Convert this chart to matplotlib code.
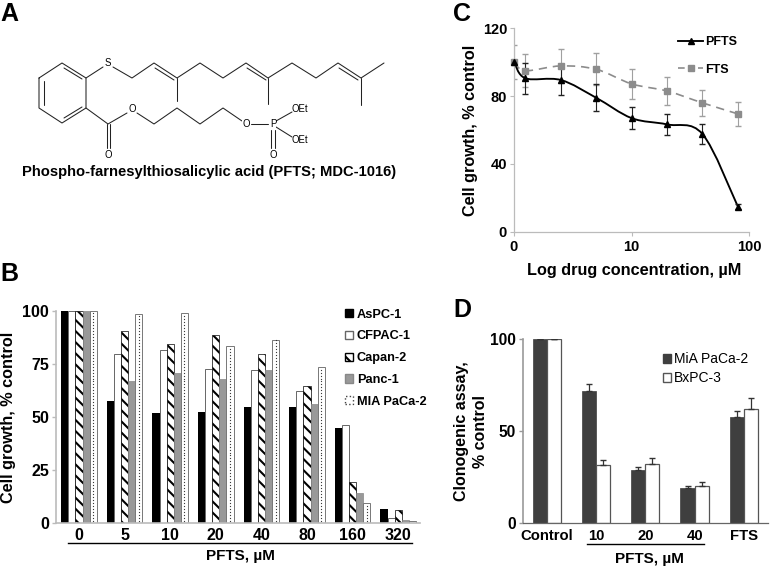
import matplotlib
matplotlib.use("Agg")
import matplotlib.pyplot as plt
import numpy as np
from matplotlib.patches import PathPatch, Patch
from matplotlib.path import Path
from matplotlib.ticker import NullFormatter, NullLocator

plt.rcParams['font.family'] = ['Liberation Sans', 'DejaVu Sans']
plt.rcParams['font.weight'] = 'bold'
plt.rcParams['hatch.linewidth'] = 1.5

W, H = 770, 568

# panel B
doses_b = ["0", "5", "10", "20", "40", "80", "160", "320"]
aspc = [100, 57.5, 52, 52.5, 54.5, 54.6, 45, 6.3]
cfpac = [100, 80, 81.5, 72.5, 72, 62.5, 46.4, 2.4]
capan = [100, 90.5, 84.5, 89, 80, 64.8, 19.4, 6]
panc = [100, 67, 71, 68, 72.4, 56, 14, 1.4]
mia = [100, 98.5, 99, 83.5, 86.6, 73.7, 9.3, 0.8]

# panel C
conc = [1, 1.25, 2.5, 5, 10, 20, 40, 80]
pfts = [100, 90.5, 89.5, 79, 67, 63.3, 57.6, 14.8]
pfts_err = [0, 9, 9, 8, 6.7, 6.3, 5.7, 1.5]
fts = [100, 95, 97.8, 95.8, 87.2, 83, 76, 69.5]
fts_err = [10, 9.7, 10, 9.5, 8.7, 8.2, 7.6, 7]

# panel D
groups_d = ["Control", "10", "20", "40", "FTS"]
mia_d = [100, 72, 29, 19, 58]
mia_d_err = [0, 3.5, 1.5, 1, 2.8]
bx_d = [100, 31.5, 32.5, 20, 62]
bx_d_err = [0, 3, 3, 2.2, 6]

# panel A, molecule bonds in pixels
bonds = [
    [(39, 78), (62, 63), (86, 78), (86, 108), (62, 123), (39, 108), (39, 78)],
    [(44, 81), (44, 105)], [(64, 68), (82, 79)], [(64, 118), (82, 107)],
    [(86, 78), (103, 67)],
    [(113, 67), (132, 78), (154, 63), (177, 78), (200, 63), (223, 78), (246, 63),
     (268, 78), (292, 63), (316, 78), (338, 63), (361, 78), (384, 63)],
    [(155, 68), (174, 80)], [(247, 68), (266, 80)], [(339, 68), (358, 80)],
    [(177, 78), (177, 101)], [(268, 78), (268, 104)], [(361, 78), (361, 105)],
    [(86, 108), (108, 124), (127, 113)],
    [(107, 124), (107, 148)], [(110, 124), (110, 148)],
    [(137, 113), (154, 124), (177, 108), (200, 124), (223, 108), (242, 121)],
    [(251, 124), (268, 124)],
    [(276, 121), (292, 112)], [(276, 127), (292, 137)],
    [(271, 130), (271, 148)], [(275, 130), (275, 148)],
]
atoms = [("S", 108, 63), ("O", 132, 109), ("O", 108, 155), ("O", 246, 124),
         ("P", 273, 124), ("OEt", 300, 109), ("OEt", 300, 140), ("O", 273, 155)]


def px_axes(left, top, right, bottom):
    return fig.add_axes([left / W, 1 - bottom / H, (right - left) / W, (bottom - top) / H])


def smooth(xs, ys):
    # catmull-rom through the points in log x, like the excel smoothed line
    lx = np.log10(xs)
    ys = np.array(ys, float)
    verts = [(xs[0], ys[0])]
    codes = [Path.MOVETO]
    n = len(xs)
    for i in range(n - 1):
        a, d = max(i - 1, 0), min(i + 2, n - 1)
        c1 = (10 ** (lx[i] + (lx[i + 1] - lx[a]) / 6), ys[i] + (ys[i + 1] - ys[a]) / 6)
        c2 = (10 ** (lx[i + 1] - (lx[d] - lx[i]) / 6), ys[i + 1] - (ys[d] - ys[i]) / 6)
        verts += [c1, c2, (xs[i + 1], ys[i + 1])]
        codes += [Path.CURVE4] * 3
    return Path(verts, codes)


fig = plt.figure(figsize=(W / 100, H / 100), dpi=100)

# overlay in pixels for the molecule, the labels and the brackets
bg = fig.add_axes([0, 0, 1, 1])
bg.set_xlim(0, W)
bg.set_ylim(H, 0)
bg.axis("off")
for b in bonds:
    xb, yb = zip(*b)
    bg.plot(xb, yb, color="#222222", lw=0.75, solid_capstyle="round")
for name, xa, ya in atoms:
    bg.text(xa, ya, name, fontsize=6.9, fontweight="normal", ha="center", va="center",
            bbox=dict(fc="white", ec="none", pad=0.2) if name in ("S", "O", "P") else None)
bg.text(209, 172, "Phospho-farnesylthiosalicylic acid (PFTS; MDC-1016)", fontsize=10.65,
        ha="center", va="center")
for letter, xl, yl in [("A", 0, 14), ("B", 0, 274), ("C", 453, 14), ("D", 453, 310)]:
    bg.text(xl, yl, letter, fontsize=18, ha="left", va="center")
bg.plot([68, 412], [543, 543], color="black", lw=1)
bg.text(240, 556, "PFTS, µM", fontsize=11, ha="center", va="center")
bg.plot([587, 704], [544, 544], color="black", lw=1)
bg.text(649, 559, "PFTS, µM", fontsize=11, ha="center", va="center")

# B
axb = px_axes(56, 311.3, 420, 522.7)
x = np.arange(len(doses_b))
w = 0.156
axb.bar(x - 2 * w, aspc, w, color="black")
axb.bar(x - w, cfpac, w, color="white", edgecolor="#666666", lw=0.7)
axb.bar(x, capan, w, color="white", edgecolor="black", hatch="\\\\\\", lw=0.5)
axb.bar(x + w, panc, w, color="#999999", edgecolor="#888888", lw=0.5)
axb.bar(x + 2 * w, mia, w, color="white", edgecolor="#777777", lw=0.7)
# the dotted fill of the last series, one column of dots up each bar
for xi, v in zip(x, mia):
    yd = np.arange(1, v, 1.4)
    axb.plot([xi + 2 * w] * len(yd), yd, ls="none", marker="o", ms=0.9, mew=0, color="#333333")
axb.set_xlim((56 - 79) / 45.6, (420 - 79) / 45.6)
axb.set_ylim(0, 100)
axb.set_yticks([0, 25, 50, 75, 100])
axb.set_xticks(x)
axb.set_xticklabels(doses_b)
axb.tick_params(axis="x", length=0, pad=4, labelsize=11.5)
axb.tick_params(axis="y", length=3, width=1, color="#bbbbbb", pad=2, labelsize=11.5)
axb.set_ylabel("Cell growth, % control", fontsize=11.7, fontweight="bold", va="center")
axb.yaxis.set_label_coords((9 - 56) / 364, 0.5)
for s in ("top", "right"):
    axb.spines[s].set_visible(False)
for s in ("left", "bottom"):
    axb.spines[s].set_color("#bbbbbb")
    axb.spines[s].set_linewidth(1.2)
handles_b = [Patch(fc="black", ec="black"), Patch(fc="white", ec="#666666"),
             Patch(fc="white", ec="black", hatch="\\\\\\"), Patch(fc="#999999", ec="#888888"),
             Patch(fc="white", ec="#444444", ls=":")]
axb.legend(handles_b, ["AsPC-1", "CFPAC-1", "Capan-2", "Panc-1", "MIA PaCa-2"],
           loc="upper left", bbox_to_anchor=(0.793, 1.012), frameon=False, fontsize=9.2,
           handlelength=0.63, handleheight=0.63, handletextpad=0.31, labelspacing=0.76,
           borderpad=0, borderaxespad=0)

# C
axc = px_axes(514, 28.3, 749.3, 231.7)
axc.errorbar(conc, fts, yerr=fts_err, fmt="none", ecolor="#a0a0a0", elinewidth=0.8, capsize=2)
axc.errorbar(conc, pfts, yerr=pfts_err, fmt="none", ecolor="#222222", elinewidth=0.8, capsize=2)
axc.add_patch(PathPatch(smooth(conc, fts), fill=False, ec="#8c8c8c", lw=1.2, ls=(0, (5, 3.5))))
axc.add_patch(PathPatch(smooth(conc, pfts), fill=False, ec="black", lw=1.35))
axc.plot(conc, fts, ls="none", marker="s", ms=4.8, color="#8c8c8c", clip_on=False, zorder=4)
axc.plot(conc, pfts, ls="none", marker="^", ms=5, color="black", clip_on=False, zorder=5)
axc.set_xscale("log")
axc.set_xlim(1, 100)
axc.set_ylim(0, 120)
axc.set_yticks([0, 40, 80, 120])
axc.set_xticks([1, 10, 100])
axc.set_xticklabels(["0", "10", "100"])
axc.xaxis.set_minor_locator(NullLocator())
axc.xaxis.set_minor_formatter(NullFormatter())
axc.tick_params(axis="x", length=3, width=0.8, color="#bbbbbb", pad=3, labelsize=10.5)
axc.tick_params(axis="y", length=3, width=0.8, color="#bbbbbb", pad=2, labelsize=10.5)
axc.set_xlabel("Log drug concentration, µM", fontsize=11.7, fontweight="bold", va="center")
axc.xaxis.set_label_coords(0.512, (231.7 - 270) / 203.4)
axc.set_ylabel("Cell growth, % control", fontsize=11.7, fontweight="bold", va="center")
axc.yaxis.set_label_coords((470 - 514) / 235.3, 0.5)
for s in ("top", "right"):
    axc.spines[s].set_visible(False)
for s in ("left", "bottom"):
    axc.spines[s].set_color("#bbbbbb")
    axc.spines[s].set_linewidth(0.9)
h1, = axc.plot([], [], color="black", lw=1.35, marker="^", ms=5)
h2, = axc.plot([], [], color="#8c8c8c", lw=1.2, ls=(0, (4, 2)), marker="s", ms=4.8)
axc.legend([h1, h2], ["PFTS", "FTS"], loc="upper left", bbox_to_anchor=(0.697, 0.962), frameon=False,
           fontsize=9, handlelength=2, handletextpad=0.2, labelspacing=1.25,
           borderpad=0, borderaxespad=0)

# D
axd = px_axes(522.7, 339.3, 768, 523.3)
xd = np.arange(len(groups_d))
wd = 0.287
axd.bar(xd - wd / 2, mia_d, wd, color="#3f3f3f", edgecolor="#3f3f3f", lw=0.5,
        yerr=[[0] * 5, mia_d_err], ecolor="#333333", error_kw=dict(elinewidth=0.9, capsize=2.2))
axd.bar(xd + wd / 2, bx_d, wd, color="white", edgecolor="#555555", lw=0.9,
        yerr=[[0] * 5, bx_d_err], ecolor="#333333", error_kw=dict(elinewidth=0.9, capsize=2.2))
axd.set_xlim((522.7 - 546.7) / 49.3, (768 - 546.7) / 49.3)
axd.set_ylim(0, 100)
axd.set_yticks([0, 50, 100])
axd.set_xticks(xd)
axd.set_xticklabels(groups_d)
axd.tick_params(axis="x", length=0, pad=4, labelsize=10.7)
axd.tick_params(axis="y", length=3, width=1, color="#999999", pad=2, labelsize=11.2)
axd.set_ylabel("Clonogenic assay,\n% control", fontsize=11.5, fontweight="bold", linespacing=1.35,
               va="center")
axd.yaxis.set_label_coords((471 - 522.7) / 245.3, 0.5)
for s in ("top", "right"):
    axd.spines[s].set_visible(False)
axd.spines["left"].set_color("#999999")
axd.spines["left"].set_linewidth(1.2)
axd.spines["bottom"].set_color("#666666")
axd.spines["bottom"].set_linewidth(0.9)
handles_d = [Patch(fc="#3f3f3f", ec="#3f3f3f"), Patch(fc="white", ec="#555555")]
legd = axd.legend(handles_d, ["MiA PaCa-2", "BxPC-3"], loc="upper left", bbox_to_anchor=(0.572, 0.93),
                  frameon=False, fontsize=10, handlelength=0.6, handleheight=0.6,
                  handletextpad=0.2, labelspacing=0.36, borderpad=0, borderaxespad=0)
for t in legd.get_texts():
    t.set_fontweight("normal")

fig.savefig("out.png", dpi=100)
